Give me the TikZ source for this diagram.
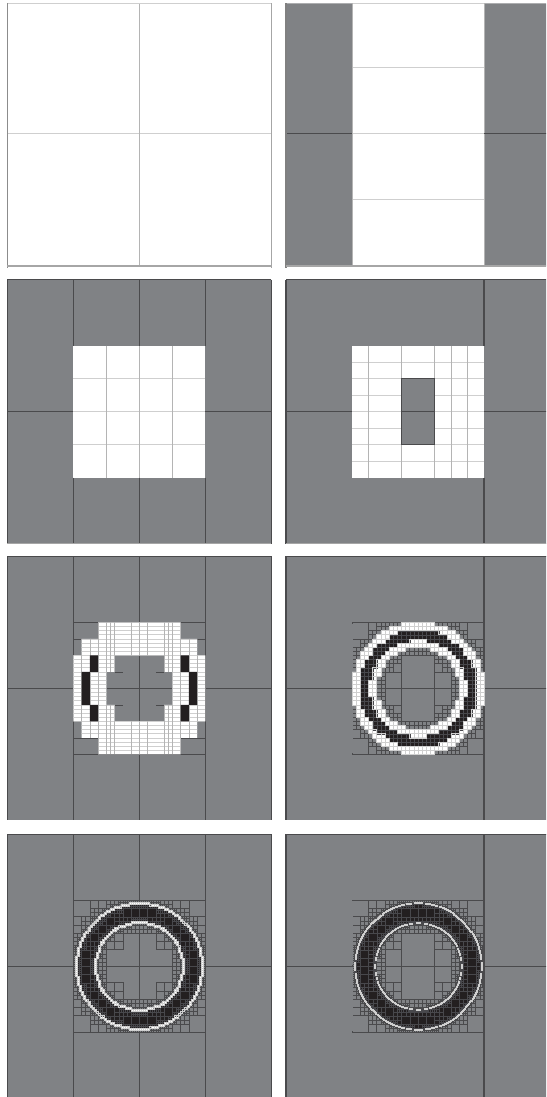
\documentclass[tikz,border=0pt]{standalone}
\definecolor{meshgray}{HTML}{808285}
\definecolor{meshdark}{HTML}{4A4A4C}
\definecolor{meshblack}{HTML}{231F20}
\definecolor{meshlight}{HTML}{CFCFCF}
\definecolor{meshvert}{HTML}{B4B4B4}
\definecolor{meshfaint}{HTML}{48484C}
\tikzset{
  px/.style={x=0.5pt,y=-0.5pt},
  unitcell/.style={x=4.125pt,y=-4.125pt},
  coarse/.style={draw=meshdark,line width=0.55pt},
  fineline/.style={draw=meshdark,line width=0.3pt},
  lighth/.style={draw=meshlight,line width=0.5pt},
  lightv/.style={draw=meshvert,line width=0.4pt},
  whitefill/.style={fill=white},
  grayfill/.style={fill=meshgray},
  blackfill/.style={fill=meshblack},
  frameedge/.style={draw=#1,line width=0.55pt},
  frameedge/.default=meshdark
}
% adaptive mesh of an annulus: cells are sorted into three paths
\newcommand\Gpath{}\newcommand\Wpath{}\newcommand\Bpath{}\newcommand\afterGray{}
\newcommand\addcell[5]{\xdef#1{\unexpanded\expandafter{#1} (#2,#3) rectangle (#4,#5)}}
\newcommand\cellrec[4]{%
  \begingroup
  \edef\qx{\fpeval{((#1)+(#3))/2}}%
  \edef\qy{\fpeval{((#2)+(#4))/2}}%
  \edef\qs{\fpeval{(#3)-(#1)}}%
  \edef\qa{\fpeval{sqrt((max(#1,min(0,#3)))^2+(max(#2,min(0,#4)))^2)}}%
  \edef\qb{\fpeval{sqrt((max(abs(#1),abs(#3)))^2+(max(abs(#2),abs(#4)))^2)}}%
  \edef\qd{\fpeval{min(max(0,\qa-\pRo,\pRo-\qb),max(0,\qa-\pRi,\pRi-\qb),max(0,\qa-\pBo,\pBo-\qb),max(0,\qa-\pBi,\pBi-\qb))}}%
  \ifnum\fpeval{((\qs>\pH+0.001)&&(\qd<\pK*\qs))?1:0}=1
    \edef\qnext{\noexpand\cellrec{#1}{#2}{\qx}{\qy}\noexpand\cellrec{\qx}{#2}{#3}{\qy}%
    \noexpand\cellrec{#1}{\qy}{\qx}{#4}\noexpand\cellrec{\qx}{\qy}{#3}{#4}}%
    \qnext
  \else
    \edef\qr{\fpeval{sqrt((\qx)^2+(\qy)^2)}}%
    \ifnum\fpeval{((\qr>=\pBi)&&(\qr<=\pBo))?1:0}=1
      \addcell\Bpath{#1}{#2}{#3}{#4}%
    \else
      \ifnum\fpeval{((\qr>=\pRi)&&(\qr<=\pRo))?1:0}=1
        \addcell\Wpath{#1}{#2}{#3}{#4}%
      \else
        \addcell\Gpath{#1}{#2}{#3}{#4}%
      \fi
    \fi
  \fi
  \endgroup}
% #1 #2 centre in px; #3..#6 radii Ri Bi Bo Ro; #7 finest cell; #8 grading; #9 width of light lines
\newcommand\ringmesh[9]{%
  \gdef\Gpath{}\gdef\Wpath{}\gdef\Bpath{}%
  \def\pRi{#3}\def\pBi{#4}\def\pBo{#5}\def\pRo{#6}\def\pH{#7}\def\pK{#8}%
  \foreach \ci in {-8,-6,...,6}{\foreach \cj in {-8,-6,...,6}{%
    \def\skipit{0}%
    \ifnum\ci>-3 \ifnum\ci<2 \ifnum\cj>-5 \ifnum\cj<4 \def\skipit{1}\fi\fi\fi\fi
    \ifnum\cj>-3 \ifnum\cj<2 \ifnum\ci>-5 \ifnum\ci<4 \def\skipit{1}\fi\fi\fi\fi
    \ifnum\skipit=0
      \edef\cii{\the\numexpr\ci+2\relax}\edef\cjj{\the\numexpr\cj+2\relax}%
      \edef\qstart{\noexpand\cellrec{\ci}{\cj}{\cii}{\cjj}}\qstart
    \fi}}%
  \begin{scope}[shift={(#1,#2)},unitcell]
    \path[fineline] \Gpath;
    \afterGray
    \path[whitefill] \Wpath;
    \path[blackfill] \Bpath;
    \path[draw=meshfaint,line width=0.08pt] \Bpath;
    \path[draw=meshlight,line width=#9] \Wpath;
    \draw[fineline] (-4,-2) -- (-2,-2) (-4,2) -- (-2,2) (2,-2) -- (4,-2) (2,2) -- (4,2);
  \end{scope}}
\newcommand\noleftside{\draw[draw=meshgray,line width=0.5pt] (-8,-7.85) -- (-8,-0.1) (-8,0.1) -- (-8,7.85);}
\begin{document}
\begin{tikzpicture}[px]
\path[use as bounding box,fill=white] (0,0) rectangle (546,1097);
\clip (0,0) rectangle (546,1097);
% ---------- panel 1
\begin{scope}[shift={(139.3,133.7)},unitcell]
  \draw[lighth] (-16,0) -- (16,0);
  \draw[lightv] (0,-15.8) -- (0,16);
  \draw[draw=meshlight,line width=0.35pt] (-16,-15.8) -- (16,-15.8);
  \draw[frameedge=gray!90] (-16,-15.8) -- (-16,16.3);
  \draw[frameedge=gray!70] (16,-15.8) -- (16,16.3);
  \draw[draw=gray!70,line width=1pt] (-16,16) -- (16,16);
\end{scope}
% ---------- panel 2
\begin{scope}[shift={(418,133.7)},unitcell]
  \path[grayfill] (-16,-15.8) rectangle (-8,16) (8,-15.8) rectangle (16,16);
  \draw[draw=meshlight,line width=0.35pt] (-8,-15.8) -- (8,-15.8);
  \draw[lighth] (-8,-8) -- (8,-8) (-8,0) -- (8,0) (-8,8) -- (8,8);
  \draw[lightv] (-8,-15.8) -- (-8,16) (8,-15.8) -- (8,16);
  \draw[coarse] (-16,0) -- (-8,0) (8,0) -- (16,0);
  \draw[frameedge=gray] (-16,-15.8) -- (-16,16.3);
  \draw[draw=gray!70,line width=1pt] (-16,16) -- (16,16);
\end{scope}
% ---------- panel 3
\begin{scope}[shift={(139.3,411.6)},unitcell]
  \path[grayfill] (-16,-16) rectangle (16,16);
  \path[whitefill] (-8,-8) rectangle (8,8);
  \draw[lighth] (-8,-4) -- (8,-4) (-8,0) -- (8,0) (-8,4) -- (8,4);
  \draw[lightv] (-4,-8) -- (-4,8) (0,-8) -- (0,8) (4,-8) -- (4,8);
  \draw[coarse] (-16,0) -- (-8,0) (8,0) -- (16,0)
    (-8,-16) -- (-8,-8) (0,-16) -- (0,-8) (8,-16) -- (8,-8)
    (-8,8) -- (-8,16) (0,8) -- (0,16) (8,8) -- (8,16)
    (-16,-16) -- (16,-16) (-16,-16) -- (-16,16) (16,-16) -- (16,16);
  \draw[draw=gray!70,line width=0.8pt] (-16,16) -- (16,16);
\end{scope}
% ---------- panel 4
\begin{scope}[shift={(418,411.6)},unitcell]
  \path[grayfill] (-16,-16) rectangle (16,16);
  \path[whitefill] (-8,-8) rectangle (8,8);
  \draw[lighth] \foreach \r in {-6,-4,-2,0,2,4,6}{(-8,\r) -- (8,\r)};
  \draw[lightv] \foreach \c in {-6,-2,2,4,6}{(\c,-8) -- (\c,8)};
  \path[grayfill] (-2,-4) rectangle (2,4);
  \draw[fineline] (-2,-4) rectangle (2,4);
  \draw[coarse] (-16,0) -- (-8,0) (8,0) -- (16,0) (-2,0) -- (2,0)
    (8,-16) -- (8,-8) (8,8) -- (8,16) (-16,-16) -- (16,-16) (-16,-16) -- (-16,16);
  \draw[draw=gray!70,line width=0.8pt] (-16,16) -- (16,16);
\end{scope}
% ---------- panel 5
\begin{scope}[shift={(139.3,688.4)},unitcell]
  \path[grayfill] (-16,-16) rectangle (16,16);
  \draw[coarse] (-16,0) -- (16,0) (-8,-16) -- (-8,16) (8,-16) -- (8,16) (0,-16) -- (0,16)
    (-16,-16) -- (16,-16) (-16,-16) -- (-16,16) (16,-16) -- (16,16);
  \draw[fineline] (-8,-8) -- (8,-8) (-8,8) -- (8,8) (-8,-6) -- (8,-6) (-8,6) -- (8,6)
    (-3,-2) -- (-2,-2) (-3,2) -- (-2,2) (2,-2) -- (3,-2) (2,2) -- (3,2);
  \path[whitefill] (-5,-8) rectangle (5,-6) (-7,-6) rectangle (7,-4)
    (-8,-4) rectangle (-3,-2) (3,-4) rectangle (8,-2)
    (-8,-2) rectangle (-4,2) (4,-2) rectangle (8,2)
    (-8,2) rectangle (-3,4) (3,2) rectangle (8,4)
    (-7,4) rectangle (7,6) (-5,6) rectangle (5,8);
  \begin{scope}
    \clip (-5,-8) rectangle (5,-6) (-7,-6) rectangle (7,-4)
    (-8,-4) rectangle (-3,-2) (3,-4) rectangle (8,-2)
    (-8,-2) rectangle (-4,2) (4,-2) rectangle (8,2)
    (-8,2) rectangle (-3,4) (3,2) rectangle (8,4)
    (-7,4) rectangle (7,6) (-5,6) rectangle (5,8);
    \draw[draw=meshlight,line width=0.3pt] \foreach \r in {-7.5,-7,...,7.5}{(-8,\r) -- (8,\r)};
    \draw[lightv,line width=0.3pt] \foreach \c in {-7,-6,-5,-4,-3.5,-3,-1,0,1,3,3.5,4,5,6,7}{(\c,-8) -- (\c,8)};
  \end{scope}
  \path[blackfill] (-6,-4) rectangle (-5,-2) (-7,-2) rectangle (-6,2) (-6,2) rectangle (-5,4)
    (5,-4) rectangle (6,-2) (6,-2) rectangle (7,2) (5,2) rectangle (6,4);
\end{scope}
% ---------- panel 6
\begin{scope}[shift={(418,688.4)},unitcell]
  \path[grayfill] (-16,-16) rectangle (16,16);
  \draw[coarse] (-16,0) -- (16,0) (8,-16) -- (8,16) (-2,-4) -- (-2,4) (2,-4) -- (2,4)
    (-16,-16) -- (16,-16) (-16,-16) -- (-16,16);
\end{scope}
\renewcommand\afterGray{\noleftside}
\ringmesh{418}{688.4}{5.0}{5.85}{7.15}{8.0}{0.5}{0.12}{0.3pt}
% ---------- panel 7
\renewcommand\afterGray{}
\begin{scope}[shift={(139.3,966.2)},unitcell]
  \path[grayfill] (-16,-16) rectangle (16,16);
  \draw[coarse] (-16,0) -- (16,0) (-8,-16) -- (-8,16) (8,-16) -- (8,16) (0,-16) -- (0,16)
    (-16,-16) -- (16,-16) (-16,-16) -- (-16,16) (16,-16) -- (16,16);
\end{scope}
\ringmesh{139.3}{966.2}{5.2}{5.45}{7.5}{7.72}{0.25}{0.15}{0.22pt}
% ---------- panel 8
\renewcommand\afterGray{\noleftside}
\begin{scope}[shift={(418,966.2)},unitcell]
  \path[grayfill] (-16,-16) rectangle (16,16);
  \draw[coarse] (-16,0) -- (16,0) (8,-16) -- (8,16) (-2,-4) -- (-2,4) (2,-4) -- (2,4)
    (-16,-16) -- (16,-16) (-16,-16) -- (-16,16);
\end{scope}
\ringmesh{418}{966.2}{5.24}{5.32}{7.62}{7.7}{0.125}{0.18}{0.12pt}
\end{tikzpicture}
\end{document}
